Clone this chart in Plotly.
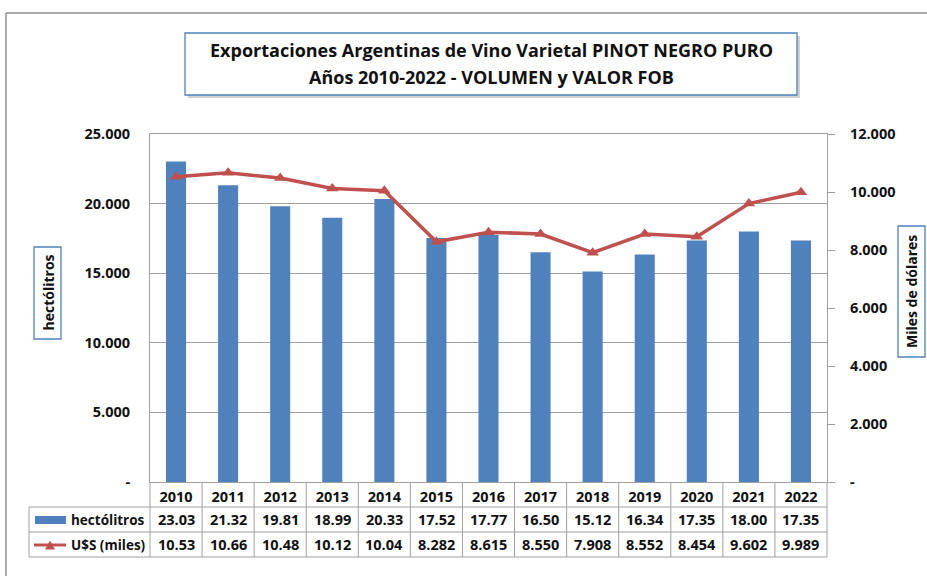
import plotly.graph_objects as go

# ---- data ----
years = ["2010", "2011", "2012", "2013", "2014", "2015", "2016",
         "2017", "2018", "2019", "2020", "2021", "2022"]
hectolitros = [23030, 21320, 19810, 18990, 20330, 17520, 17770,
               16500, 15120, 16340, 17350, 18000, 17350]
usd_miles = [10530, 10660, 10480, 10120, 10040, 8282, 8615,
             8550, 7908, 8552, 8454, 9602, 9989]
left_ticks = [0, 5000, 10000, 15000, 20000, 25000]
right_ticks = [0, 2000, 4000, 6000, 8000, 10000, 12000]

title_lines = ["Exportaciones Argentinas de Vino Varietal PINOT NEGRO PURO",
               "Años 2010-2022 - VOLUMEN y VALOR FOB"]
row_labels = ["hectólitros", "U$S (miles)"]

# ---- styling ----
W, H = 927, 576
L, R, T, B = 150, 100, 134, 94
PW, PH = W - L - R, H - T - B
BLUE = "#4F81BD"
RED = "#C0504D"
GRID = "#A0A0A0"
TXT = "#111111"
FONT = "Open Sans"


def px(x):
    return (x - L) / PW


def py(y):
    return (H - B - y) / PH


def fmt_thou(v):
    return "-" if v == 0 else f"{v:,}".replace(",", ".")


def fmt_table(v):
    return f"{v / 1000:#.4g}"


fig = go.Figure()
fig.add_trace(go.Bar(x=years, y=hectolitros, name="hectólitros",
                     marker=dict(color=BLUE, line=dict(width=0)),
                     yaxis="y", showlegend=False))
fig.add_trace(go.Scatter(x=years, y=usd_miles, name="U$S (miles)",
                         mode="lines+markers", yaxis="y2",
                         line=dict(color=RED, width=3.5),
                         marker=dict(symbol="triangle-up", size=11, color=RED),
                         showlegend=False))

shapes = []
annotations = []

# outer chart frame
shapes.append(dict(type="line", xref="paper", yref="paper",
                   x0=px(6), x1=px(W + 5), y0=py(13), y1=py(13),
                   line=dict(color="#8C8C8C", width=1.5)))
shapes.append(dict(type="line", xref="paper", yref="paper",
                   x0=px(6), x1=px(6), y0=py(13), y1=py(H + 5),
                   line=dict(color="#8C8C8C", width=1.5)))

# title box with shadow
shapes.append(dict(type="rect", xref="paper", yref="paper",
                   x0=px(188), x1=px(800), y0=py(36), y1=py(98),
                   line=dict(width=0), fillcolor="rgba(0,0,0,0.18)"))
shapes.append(dict(type="rect", xref="paper", yref="paper",
                   x0=px(185), x1=px(797), y0=py(33), y1=py(95),
                   line=dict(color=BLUE, width=1.3), fillcolor="white"))
for txt, yc in zip(title_lines, [50, 77]):
    annotations.append(dict(text=f"<b>{txt}</b>", xref="paper", yref="paper",
                            x=px(491), y=py(yc), xanchor="center", yanchor="middle",
                            showarrow=False,
                            font=dict(family=FONT, size=18, color=TXT)))

# axis title boxes
shapes.append(dict(type="rect", xref="paper", yref="paper",
                   x0=px(34), x1=px(61), y0=py(247), y1=py(339),
                   line=dict(color=BLUE, width=1.3), fillcolor="white"))
annotations.append(dict(text="<b>hectólitros</b>", xref="paper", yref="paper",
                        x=px(47.5), y=py(293), xanchor="center", yanchor="middle",
                        textangle=-90, showarrow=False,
                        font=dict(family=FONT, size=14, color=TXT)))
shapes.append(dict(type="rect", xref="paper", yref="paper",
                   x0=px(898), x1=px(925), y0=py(226), y1=py(357),
                   line=dict(color=BLUE, width=1.3), fillcolor="white"))
annotations.append(dict(text="<b>Miles de dólares</b>", xref="paper", yref="paper",
                        x=px(911.5), y=py(291.5), xanchor="center", yanchor="middle",
                        textangle=-90, showarrow=False,
                        font=dict(family=FONT, size=14, color=TXT)))

# data table grid
for ye in [507, 532, 557]:
    shapes.append(dict(type="line", xref="paper", yref="paper",
                       x0=px(29), x1=1, y0=py(ye), y1=py(ye),
                       line=dict(color=GRID, width=1)))
shapes.append(dict(type="line", xref="paper", yref="paper",
                   x0=px(29), x1=px(29), y0=py(507), y1=py(557),
                   line=dict(color=GRID, width=1)))
for xe in [0, 1]:
    shapes.append(dict(type="line", xref="paper", yref="paper",
                       x0=xe, x1=xe, y0=0, y1=py(557),
                       line=dict(color=GRID, width=1)))
for i in range(1, len(years)):
    shapes.append(dict(type="line", xref="x", yref="paper",
                       x0=i - 0.5, x1=i - 0.5, y0=0, y1=py(557),
                       line=dict(color=GRID, width=1)))

# table values (category index positions on the x axis)
for i, (h, u) in enumerate(zip(hectolitros, usd_miles)):
    annotations.append(dict(text=f"<b>{fmt_table(h)}</b>", xref="x", yref="paper",
                            x=i, y=py(519.5), xanchor="center", yanchor="middle",
                            showarrow=False,
                            font=dict(family=FONT, size=14.5, color=TXT)))
    annotations.append(dict(text=f"<b>{fmt_table(u)}</b>", xref="x", yref="paper",
                            x=i, y=py(544.5), xanchor="center", yanchor="middle",
                            showarrow=False,
                            font=dict(family=FONT, size=14.5, color=TXT)))

# row labels with legend keys
for lbl, yc in zip(row_labels, [519.5, 544.5]):
    annotations.append(dict(text=f"<b>{lbl}</b>", xref="paper", yref="paper",
                            x=px(69), y=py(yc), xanchor="left", yanchor="middle",
                            showarrow=False,
                            font=dict(family=FONT, size=13.5, color=TXT)))
shapes.append(dict(type="rect", xref="paper", yref="paper",
                   x0=px(35), x1=px(66), y0=py(516), y1=py(524),
                   line=dict(width=0), fillcolor=BLUE))
shapes.append(dict(type="line", xref="paper", yref="paper",
                   x0=px(34), x1=px(66), y0=py(545), y1=py(545),
                   line=dict(color=RED, width=3)))
tri = [(45, 549.5), (55, 549.5), (50, 540.5)]
path = "M " + " L ".join(f"{px(a)},{py(b)}" for a, b in tri) + " Z"
shapes.append(dict(type="path", xref="paper", yref="paper", path=path,
                   line=dict(width=0), fillcolor=RED))

fig.update_layout(
    width=W, height=H,
    margin=dict(l=L, r=R, t=T, b=B, pad=0),
    paper_bgcolor="white", plot_bgcolor="white",
    bargap=0.615,
    shapes=shapes, annotations=annotations,
    xaxis=dict(type="category", range=[-0.5, len(years) - 0.5],
               showline=True, linecolor=GRID, linewidth=1, mirror=True,
               showgrid=False, ticks="", tickvals=years,
               ticktext=[f"<b>{y}</b>" for y in years],
               tickfont=dict(family=FONT, size=14.5, color=TXT),
               ticklabelstandoff=2, fixedrange=True),
    yaxis=dict(range=[0, 25000], tickvals=left_ticks,
               ticktext=[f"<b>{fmt_thou(v)}</b>" for v in left_ticks],
               tickfont=dict(family=FONT, size=14.5, color=TXT),
               showline=True, linecolor=GRID, linewidth=1, mirror=True,
               showgrid=True, gridcolor=GRID, gridwidth=1,
               zeroline=False, ticks="", ticklabelstandoff=16),
    yaxis2=dict(range=[0, 12000], overlaying="y", side="right",
                tickvals=right_ticks,
                ticktext=[f"<b>{fmt_thou(v)}</b>" for v in right_ticks],
                tickfont=dict(family=FONT, size=14.5, color=TXT),
                showline=True, linecolor=GRID, linewidth=1,
                showgrid=False, zeroline=False,
                ticks="outside", ticklen=7, tickcolor=GRID,
                ticklabelstandoff=12),
)

fig.write_html("out.html",
               config={"displayModeBar": False},
               post_script="document.body.style.margin='0';"
                           "document.body.style.overflow='hidden';")
